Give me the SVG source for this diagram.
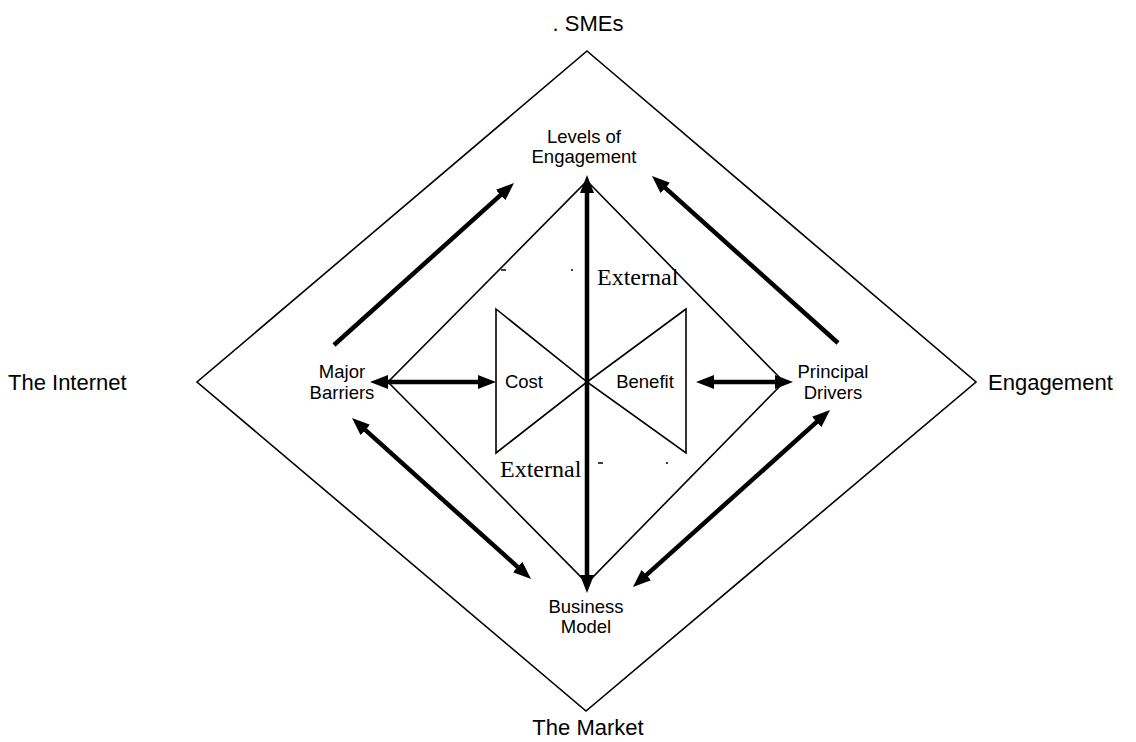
<svg xmlns="http://www.w3.org/2000/svg" width="1136" height="742" viewBox="0 0 1136 742">
  <style>
    .frame { fill: none; stroke: #000; stroke-width: 1.6; }
    .arrow { stroke: #000; stroke-width: 4.5; fill: none; }
    .big { font-family: "Liberation Sans", Arial, sans-serif; font-size: 22px; fill: #000; }
    .lbl { font-family: "Liberation Sans", Arial, sans-serif; font-size: 18.5px; fill: #000; text-anchor: middle; }
    .ext { font-family: "Liberation Serif", "Times New Roman", serif; font-size: 24px; fill: #000; }
    .tick { stroke: #000; stroke-width: 1.5; }
  </style>
  <defs>
    <marker id="head" markerUnits="userSpaceOnUse" markerWidth="20" markerHeight="16" refX="8" refY="7" orient="auto-start-reverse">
      <path d="M0,0 L18,7 L0,14 z" fill="#000"/>
    </marker>
  </defs>
  <rect width="1136" height="742" fill="#fff"/>

  <!-- outer and inner frames -->
  <g id="outer-frame">
    <polygon class="frame" points="587,51 976,382 586,711 197,382"/>
  </g>
  <g id="inner-frame">
    <polygon class="frame" points="587,181 784,382 587,583 388,382"/>
  </g>
  <g id="bowtie">
    <polygon class="frame" points="496,309 587,382 496,453"/>
    <polygon class="frame" points="686,309 587,382 686,453"/>
    <text class="lbl" x="524" y="388">Cost</text>
    <text class="lbl" x="645" y="388">Benefit</text>
  </g>

  <!-- corner labels -->
  <g id="smes"><text class="big" x="588" y="31" text-anchor="middle">. SMEs</text></g>
  <g id="internet"><text class="big" x="8" y="390">The Internet</text></g>
  <g id="engagement"><text class="big" x="988" y="390">Engagement</text></g>
  <g id="market"><text class="big" x="588" y="735" text-anchor="middle">The Market</text></g>

  <!-- inner nodes -->
  <g id="levels">
    <text class="lbl" x="584" y="143">Levels of</text>
    <text class="lbl" x="584" y="163">Engagement</text>
  </g>
  <g id="barriers">
    <text class="lbl" x="342" y="378">Major</text>
    <text class="lbl" x="342" y="399">Barriers</text>
  </g>
  <g id="drivers">
    <text class="lbl" x="833" y="378">Principal</text>
    <text class="lbl" x="833" y="399">Drivers</text>
  </g>
  <g id="business">
    <text class="lbl" x="586" y="613">Business</text>
    <text class="lbl" x="586" y="633">Model</text>
  </g>

  <!-- axis labels -->
  <g id="external-labels">
    <text class="ext" x="597" y="285">External</text>
    <text class="ext" x="500" y="477">External</text>
    <line class="tick" x1="501" y1="270" x2="506" y2="270"/>
    <line class="tick" x1="571" y1="270" x2="573" y2="270"/>
    <line class="tick" x1="598" y1="463" x2="603" y2="463"/>
    <line class="tick" x1="666" y1="463" x2="668" y2="463"/>
  </g>

  <!-- connectors -->
  <g id="connectors">
    <line class="arrow" x1="587" y1="583" x2="587" y2="185" marker-start="url(#head)" marker-end="url(#head)"/>
    <line class="arrow" x1="334" y1="345" x2="506.6" y2="189.7" marker-end="url(#head)"/>
    <line class="arrow" x1="838" y1="343" x2="659.4" y2="182.7" marker-end="url(#head)"/>
    <line class="arrow" x1="359.4" y1="424.7" x2="523.6" y2="572.3" marker-start="url(#head)" marker-end="url(#head)"/>
    <line class="arrow" x1="822.6" y1="416.7" x2="640.4" y2="580.3" marker-start="url(#head)" marker-end="url(#head)"/>
    <line class="arrow" x1="380" y1="382" x2="486" y2="382" marker-start="url(#head)" marker-end="url(#head)"/>
    <line class="arrow" x1="706" y1="382" x2="783" y2="382" marker-start="url(#head)" marker-end="url(#head)"/>
  </g>
</svg>
